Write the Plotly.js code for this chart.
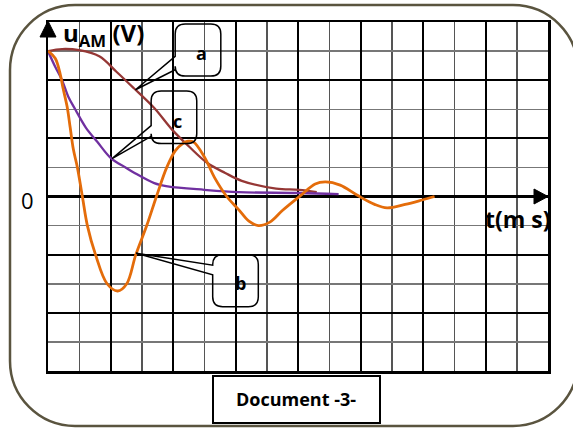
<!DOCTYPE html>
<html>
<head>
<meta charset="utf-8">
<script src="https://cdn.plot.ly/plotly-3.0.1.min.js"></script>
<style>
  html, body { margin: 0; padding: 0; background: #fff; }
  #chart { width: 573px; height: 428px; }
</style>
</head>
<body>
<div id="chart"></div>
<script>
// curve a (brown), t in ms grid units, u in V grid units
const tA = [0, 0.45, 1.0, 1.64, 2.19, 2.74, 3.4, 3.97, 4.52, 5.1, 5.67, 6.2, 7.3, 8.03, 8.6];
const uA = [5, 5.07, 5.03, 4.82, 4.29, 3.73, 3.04, 2.3, 1.71, 1.15, 0.81, 0.54, 0.27, 0.23, 0.15];

// curve c (purple)
const tC = [0, 0.23, 0.45, 0.65, 0.87, 1.21, 1.57, 2.03, 2.48, 2.77, 3.4, 3.83, 5.0, 6.1, 8.03, 9.3];
const uC = [5, 4.46, 4.0, 3.43, 3.0, 2.37, 1.89, 1.3, 1.0, 0.81, 0.46, 0.35, 0.23, 0.15, 0.12, 0.08];

// curve b (orange)
const tB = [0, 0.23, 0.39, 0.48, 0.61, 0.71, 0.81, 0.94, 1.1, 1.26, 1.52, 1.89, 2.23, 2.52, 2.81, 3.16, 3.47, 3.8, 4.07, 4.31, 4.48, 4.66, 5.0, 5.33, 5.72, 6.1, 6.43, 6.73, 7.1, 7.5, 8.09, 8.55, 8.88, 9.35, 9.9, 10.45, 10.85, 11.43, 11.97, 12.37];
const uB = [5, 4.75, 4.21, 3.73, 3.1, 2.37, 1.63, 1.0, 0, -1, -2, -3, -3.25, -3, -2, -1, 0, 1, 1.57, 1.82, 1.9, 1.87, 1.37, 0.65, 0, -0.45, -0.85, -1.0, -0.88, -0.48, 0.04, 0.43, 0.5, 0.39, 0.04, -0.27, -0.39, -0.27, -0.12, 0];

const W = 573, H = 428;
const M = { l: 48, r: 25, t: 22, b: 57 };
const plotW = W - M.l - M.r, plotH = H - M.t - M.b;
// window pixel -> paper fraction
const px = x => (x - M.l) / plotW;
const py = y => (H - M.b - y) / plotH;

function roundRect(x0, y0, x1, y1, r) {
  const k = r * 0.448;
  const P = (x, y) => `${px(x)},${py(y)}`;
  return `M${P(x0 + r, y0)} L${P(x1 - r, y0)} C${P(x1 - k, y0)} ${P(x1, y0 + k)} ${P(x1, y0 + r)} ` +
    `L${P(x1, y1 - r)} C${P(x1, y1 - k)} ${P(x1 - k, y1)} ${P(x1 - r, y1)} ` +
    `L${P(x0 + r, y1)} C${P(x0 + k, y1)} ${P(x0, y1 - k)} ${P(x0, y1 - r)} ` +
    `L${P(x0, y0 + r)} C${P(x0, y0 + k)} ${P(x0 + k, y0)} ${P(x0 + r, y0)} Z`;
}

// callout box in data units, with a wedge on the left side pointing at tip
function callout(x0, x1, y0, y1, w1, w2, tip) {
  const rx = 0.32, ry = 0.34;
  return `M${x0 + rx},${y1} L${x1 - rx},${y1} Q${x1},${y1} ${x1},${y1 - ry} L${x1},${y0 + ry} ` +
    `Q${x1},${y0} ${x1 - rx},${y0} L${x0 + rx},${y0} Q${x0},${y0} ${x0},${y0 + ry} L${x0},${w2} ` +
    `L${tip[0]},${tip[1]} L${x0},${w1} L${x0},${y1 - ry} Q${x0},${y1} ${x0 + rx},${y1} Z`;
}

const traces = [
  { x: tA, y: uA, type: "scatter", mode: "lines", name: "a",
    line: { color: "#953735", width: 2.3, shape: "spline", smoothing: 1 } },
  { x: tC, y: uC, type: "scatter", mode: "lines", name: "c",
    line: { color: "#7030a0", width: 2.3, shape: "spline", smoothing: 1 } },
  { x: tB, y: uB, type: "scatter", mode: "lines", name: "b",
    line: { color: "#e46c0a", width: 2.8, shape: "spline", smoothing: 1 } }
];

const axisBase = {
  showgrid: true, gridcolor: "#000", gridwidth: 2,
  showline: true, mirror: true, linecolor: "#000", linewidth: 2.5,
  showticklabels: false, ticks: "", fixedrange: true
};

const zeroPaper = 0.5;
const bold = (s) => `<b>${s}</b>`;
const F = "Open Sans, Liberation Sans, sans-serif";

const layout = {
  width: W, height: H,
  margin: M,
  paper_bgcolor: "#fff", plot_bgcolor: "#fff",
  showlegend: false,
  xaxis: Object.assign({}, axisBase, {
    range: [0, 16], tick0: 0, dtick: 2, zeroline: false,
    minor: { dtick: 1, showgrid: true, gridcolor: "#555", gridwidth: 1.5 }
  }),
  yaxis: Object.assign({}, axisBase, {
    range: [-6, 6], tick0: 0, dtick: 2,
    zeroline: true, zerolinecolor: "#000", zerolinewidth: 3,
    minor: { dtick: 1, showgrid: true, gridcolor: "#777", gridwidth: 1.5 }
  }),
  shapes: [
    { type: "path", xref: "paper", yref: "paper", path: roundRect(10, 5, 578, 426, 65),
      line: { color: "#5a543f", width: 2.5 } },
    { type: "rect", xref: "paper", yref: "paper",
      x0: px(213), x1: px(380), y0: py(423), y1: py(376),
      line: { color: "#000", width: 2 } },
    // axis arrows
    { type: "path", xref: "paper", yref: "paper",
      path: `M${px(48)},${py(21)} L${px(40)},${py(37)} L${px(56)},${py(37)} Z`,
      fillcolor: "#000", line: { color: "#000", width: 1 } },
    { type: "path", xref: "paper", yref: "paper",
      path: `M1,${zeroPaper} L${px(534)},${zeroPaper + 7.5 / plotH} L${px(534)},${zeroPaper - 7.5 / plotH} Z`,
      fillcolor: "#000", line: { color: "#000", width: 1 } },
    // callouts
    { type: "path", xref: "x", yref: "y", path: callout(4.07, 5.53, 4.14, 5.93, 4.82, 4.36, [2.8, 3.67]),
      line: { color: "#000", width: 1.5 } },
    { type: "path", xref: "x", yref: "y", path: callout(3.3, 4.76, 1.82, 3.63, 2.44, 2.07, [2.05, 1.3]),
      line: { color: "#000", width: 1.5 } },
    { type: "path", xref: "x", yref: "y", path: callout(5.27, 6.73, -3.79, -2.0, -2.36, -2.69, [2.82, -1.95]),
      line: { color: "#000", width: 1.5 } }
  ],
  annotations: [
    { xref: "paper", yref: "paper", x: px(61), y: py(34), xanchor: "left", yanchor: "middle",
      text: bold("u<sub>AM</sub> (V)"), showarrow: false, font: { family: F, size: 24, color: "#000" } },
    { xref: "paper", yref: "paper", x: px(27), y: zeroPaper - 3 / plotH, xanchor: "center", yanchor: "middle",
      text: "0", showarrow: false, font: { family: F, size: 22, color: "#000" } },
    { xref: "paper", yref: "paper", x: px(518), y: zeroPaper - 22 / plotH, xanchor: "center", yanchor: "middle",
      text: bold("t(m s)"), showarrow: false, font: { family: F, size: 23, color: "#000" } },
    { xref: "paper", yref: "paper", x: px(296), y: py(399), xanchor: "center", yanchor: "middle",
      text: bold("Document -3-"), showarrow: false, font: { family: F, size: 18, color: "#000" } },
    { xref: "x", yref: "y", x: 4.9, y: 4.93, text: bold("a"), showarrow: false,
      font: { family: F, size: 18, color: "#000" } },
    { xref: "x", yref: "y", x: 4.14, y: 2.6, text: bold("c"), showarrow: false,
      font: { family: F, size: 18, color: "#000" } },
    { xref: "x", yref: "y", x: 6.17, y: -2.97, text: bold("b"), showarrow: false,
      font: { family: F, size: 18, color: "#000" } }
  ]
};

Plotly.newPlot("chart", traces, layout, { displayModeBar: false, staticPlot: true });
</script>
</body>
</html>
